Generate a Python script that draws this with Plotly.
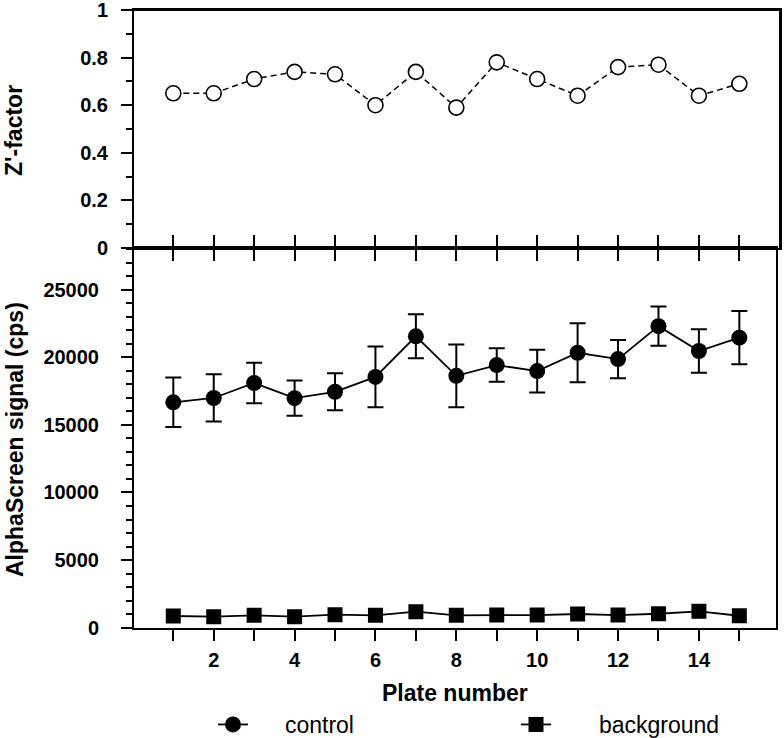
import plotly.graph_objects as go

# ---- data ----
plates = list(range(1, 16))
zfactor = [0.65, 0.65, 0.71, 0.74, 0.73, 0.60, 0.74, 0.59, 0.78, 0.71, 0.64, 0.76, 0.77, 0.64, 0.69]
control = [16680, 17000, 18110, 16990, 17460, 18560, 21570, 18640, 19440, 18990, 20350, 19880, 22320, 20480, 21470]
control_err = [1830, 1750, 1500, 1300, 1370, 2250, 1630, 2330, 1240, 1590, 2190, 1420, 1450, 1610, 1970]
background = [850, 800, 900, 800, 950, 900, 1170, 900, 920, 920, 1000, 920, 1020, 1200, 870]

x_tick_text = [str(p) if p % 2 == 0 else "" for p in plates]
z_ticks = [0, 0.2, 0.4, 0.6, 0.8, 1.0]
z_tick_text = ["0", "0.2", "0.4", "0.6", "0.8", "1"]
sig_ticks = [0, 5000, 10000, 15000, 20000, 25000]
sig_tick_text = ["0", "5000", "10000", "15000", "20000", "25000"]

W, H = 784, 738
LEGEND_TOP = 703          # pixel row of the legends' top edge (container coords)
P = LEGEND_TOP            # plot-area height left after the legend reserves the bottom strip
FONT = "Arial, Liberation Sans, sans-serif"

def fx(px):
    return px / W

def fy(py):
    return 1 - py / P

fig = go.Figure()

fig.add_trace(go.Scatter(
    x=plates, y=zfactor, mode="lines+markers", xaxis="x", yaxis="y",
    line=dict(color="black", width=1.5, dash="6px,4px"),
    marker=dict(symbol="circle", size=15, color="white", line=dict(color="black", width=1.6)),
    showlegend=False,
))

fig.add_trace(go.Scatter(
    x=plates, y=control, mode="lines+markers", xaxis="x2", yaxis="y2",
    name="\u00a0\u00a0\u00a0\u00a0\u00a0control",
    line=dict(color="black", width=1.8),
    marker=dict(symbol="circle", size=16, color="black"),
    error_y=dict(type="data", array=control_err, visible=True, color="black", thickness=2, width=8),
    legend="legend",
))

fig.add_trace(go.Scatter(
    x=plates, y=background, mode="lines+markers", xaxis="x2", yaxis="y2",
    name="\u00a0\u00a0\u00a0\u00a0\u00a0\u00a0\u2009background",
    line=dict(color="black", width=1.8),
    marker=dict(symbol="square", size=15, color="black"),
    legend="legend2",
))

tickfont = dict(family=FONT, size=20, color="black", weight="bold")

common_axis = dict(showgrid=False, zeroline=False, showline=True, linecolor="black", linewidth=2,
                   tickcolor="black", tickwidth=2, tickfont=tickfont, automargin=False,
                   ticklabeloverflow="allow")

frame_line = dict(color="black", width=2)
legend_font = dict(family=FONT, size=23, color="black")
legend_y = 1 - LEGEND_TOP / H

fig.update_layout(
    width=W, height=H, autosize=False,
    margin=dict(l=0, r=0, t=0, b=0, pad=0),
    paper_bgcolor="white", plot_bgcolor="white",
    font=dict(family=FONT, color="black", size=20),
    xaxis=dict(domain=[fx(134), fx(780)], range=[0.028, 16.006], anchor="y",
               tickmode="array", tickvals=plates, showticklabels=False,
               ticks="outside", ticklen=11, mirror=True, **common_axis),
    yaxis=dict(domain=[fy(248), fy(10)], range=[0, 1], anchor="x",
               tickmode="array", tickvals=z_ticks, ticktext=z_tick_text,
               ticks="outside", ticklen=11, mirror=True, ticklabelstandoff=9,
               minor=dict(tick0=0, dtick=0.1, ticks="outside", ticklen=6, tickwidth=2,
                          tickcolor="black"),
               **common_axis),
    xaxis2=dict(domain=[fx(134), fx(776)], range=[0.028, 15.907], anchor="y2",
                tickmode="array", tickvals=plates, ticktext=x_tick_text,
                ticks="outside", ticklen=11, mirror="ticks", ticklabelstandoff=2,
                **common_axis),
    yaxis2=dict(domain=[fy(627.5), fy(248)], range=[0, 28110], anchor="x2",
                tickmode="array", tickvals=sig_ticks, ticktext=sig_tick_text,
                ticks="outside", ticklen=11, mirror=True, ticklabelstandoff=18,
                minor=dict(tick0=0, dtick=1000, ticks="outside", ticklen=6, tickwidth=2,
                           tickcolor="black"),
                **common_axis),
    legend=dict(orientation="h", x=fx(213), y=legend_y, xanchor="left", yanchor="top",
                xref="container", yref="container",
                font=legend_font, bgcolor="rgba(0,0,0,0)"),
    legend2=dict(orientation="h", x=fx(516), y=legend_y, xanchor="left", yanchor="top",
                 xref="container", yref="container",
                 font=legend_font, bgcolor="rgba(0,0,0,0)"),
    shapes=[
        dict(type="line", xref="paper", yref="paper", x0=fx(133), x1=fx(780), y0=fy(10), y1=fy(10),
             line=frame_line),
        dict(type="line", xref="paper", yref="paper", x0=fx(780), x1=fx(780), y0=fy(10), y1=fy(248),
             line=frame_line),
    ],
    annotations=[
        dict(text="Z'-factor", x=fx(14), y=fy(131), xref="paper", yref="paper", showarrow=False,
             textangle=-90, xanchor="center", yanchor="middle",
             font=dict(family=FONT, size=23, color="black", weight="bold")),
        dict(text="AlphaScreen signal (cps)", x=fx(15), y=fy(440), xref="paper", yref="paper",
             showarrow=False, textangle=-90, xanchor="center", yanchor="middle",
             font=dict(family=FONT, size=23, color="black", weight="bold")),
        dict(text="Plate number", x=fx(455), y=fy(693), xref="paper", yref="paper", showarrow=False,
             xanchor="center", yanchor="middle",
             font=dict(family=FONT, size=23, color="black", weight="bold")),
    ],
)

fig.write_html("out.html", config={"displayModeBar": False},
               post_script="document.body.style.margin='0px';")
